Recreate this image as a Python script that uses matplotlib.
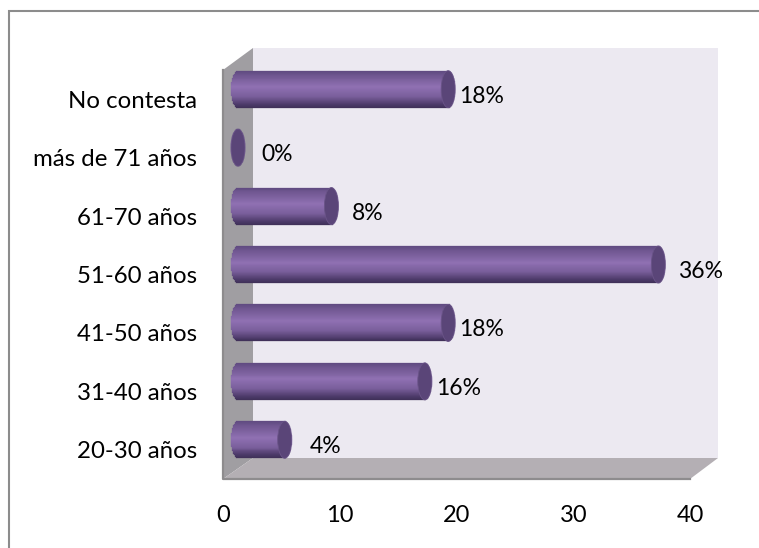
"""Horizontal 3D-look cylinder bar chart of age groups."""

import matplotlib.pyplot as plt
import numpy as np
from matplotlib.colors import LinearSegmentedColormap
from matplotlib.patches import Ellipse, Polygon

categories = ["20-30 años", "31-40 años", "41-50 años", "51-60 años", "61-70 años", "más de 71 años", "No contesta"]
values = [4, 16, 18, 36, 8, 0, 18]
x_ticks = [0, 10, 20, 30, 40]

W, H = 759, 548
# front plane of the fake 3D box, in pixels
LEFT, RIGHT, TOP, BOTTOM = 223, 690, 70, 479
BACK_LEFT, BACK_RIGHT, BACK_TOP, BACK_BOTTOM = 253, 718, 48, 458
# bars sit part way into the box
DEPTH_X, DEPTH_Y = 15, 10
CAP_RX, CAP_RY = 7, 18.5
LABEL_GAP = [18, 4, 4, 13, 13, 16, 4]

plt.rcParams["font.family"] = ["Lato", "DejaVu Sans"]
FONT_SIZE = 16.5

shade = LinearSegmentedColormap.from_list(
    "cyl",
    [(0.0, "#5f4a80"), (0.12, "#6f5690"), (0.45, "#9071b3"), (0.7, "#7a5f9c"), (0.9, "#4f3c6c"), (1.0, "#3f3058")],
)

fig = plt.figure(figsize=(W / 100, H / 100), dpi=100, facecolor="white")

bg = fig.add_axes([0, 0, 1, 1])
bg.set_xlim(0, W)
bg.set_ylim(H, 0)
bg.axis("off")

# outer chart border
bg.plot([8.5, 8.5, W], [H, 11, 11], color="#8c8c8c", linewidth=1.5, solid_joinstyle="miter")

# walls and floor
bg.add_patch(Polygon([(BACK_LEFT, BACK_TOP), (BACK_RIGHT, BACK_TOP), (BACK_RIGHT, BACK_BOTTOM), (BACK_LEFT, BACK_BOTTOM)], color="#ece9f1", lw=0))
bg.add_patch(Polygon([(LEFT, TOP), (BACK_LEFT, BACK_TOP), (BACK_LEFT, BACK_BOTTOM), (LEFT, BOTTOM)], color="#a09ea2", lw=0))
bg.add_patch(Polygon([(LEFT, BOTTOM), (BACK_LEFT, BACK_BOTTOM), (BACK_RIGHT, BACK_BOTTOM), (RIGHT, BOTTOM)], color="#b4afb4", lw=0))
bg.plot([LEFT, LEFT, RIGHT], [TOP, BOTTOM, BOTTOM], color="#8e8c8e", linewidth=1.6)

ax = fig.add_axes([LEFT / W, 1 - BOTTOM / H, (RIGHT - LEFT) / W, (BOTTOM - TOP) / H])
ax.patch.set_alpha(0)
ax.set_xlim(0, 40)
ax.set_ylim(-0.5, 6.5)
for spine in ax.spines.values():
    spine.set_visible(False)

px_x = 40 / (RIGHT - LEFT)
px_y = 7 / (BOTTOM - TOP)
pos = np.arange(len(categories))
x0 = DEPTH_X * px_x
y0 = DEPTH_Y * px_y

n_strips = 38
t = np.linspace(-1, 1, n_strips, endpoint=False) + 1 / n_strips
strip_h = 2 * CAP_RY * px_y / n_strips
for p, v, gap in zip(pos, values, LABEL_GAP):
    for ti in t:
        bulge = CAP_RX * px_x * np.sqrt(1 - ti**2)
        color = shade((ti + 1) / 2)
        ax.barh(
            p + y0 - ti * CAP_RY * px_y,
            v + 2 * bulge,
            left=x0 - bulge,
            height=strip_h,
            color=color,
            edgecolor=color,
            linewidth=0.2,
        )
    ax.add_patch(
        Ellipse((x0 + v, p + y0), 2 * CAP_RX * px_x, 2 * CAP_RY * px_y, facecolor="#5a4578", edgecolor="#6a5488", linewidth=0.6, zorder=3)
    )
    ax.text(
        x0 + v + (CAP_RX + gap) * px_x,
        p + y0 - 7 * px_y,
        f"{v}%",
        ha="left",
        va="center",
        fontsize=FONT_SIZE,
        color="black",
        zorder=4,
    )

ax.set_yticks(pos, categories)
ax.set_xticks(x_ticks)
ax.tick_params(axis="y", length=0, pad=18.7, labelsize=17.3)
ax.tick_params(axis="x", length=0, pad=18.5, labelsize=17)

fig.savefig("out.png", dpi=100)
